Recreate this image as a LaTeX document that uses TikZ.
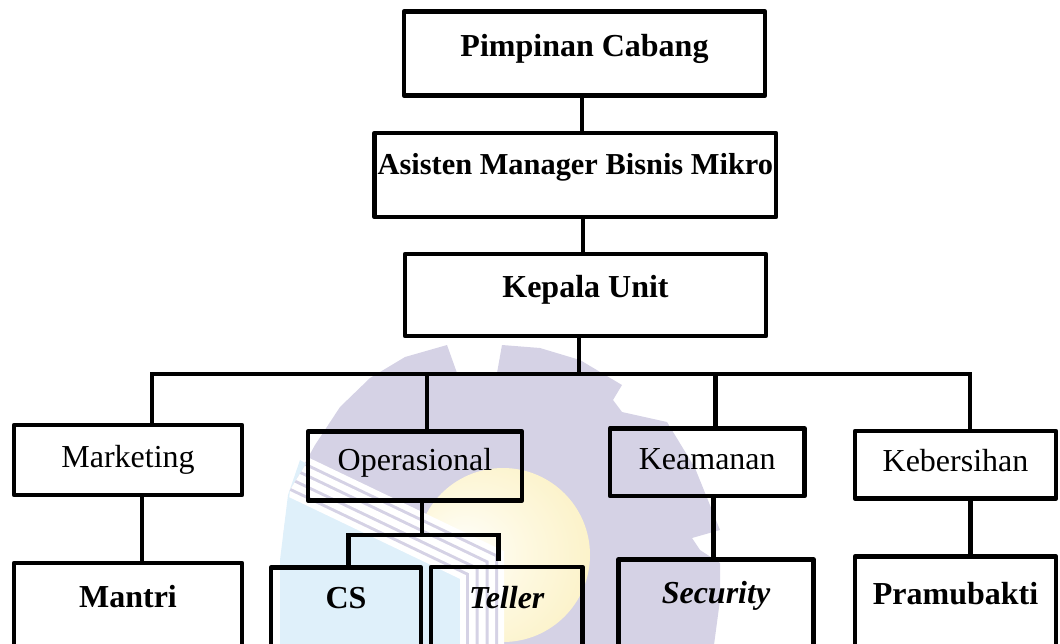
\documentclass[tikz,border=0pt]{standalone}
\usepackage{fontspec}
\setmainfont{Liberation Serif}
\definecolor{lav}{HTML}{D5D2E5}
\definecolor{wblue}{HTML}{DFF0FA}
\pgfdeclareradialshading{yelsh}{\pgfpoint{-14bp}{0bp}}{rgb(0bp)=(1,1,1); rgb(16bp)=(0.995,0.975,0.88); rgb(34bp)=(0.985,0.945,0.77); rgb(50bp)=(0.985,0.945,0.77)}
\begin{document}
\begin{tikzpicture}[x=1pt,y=-1pt,
  box/.style={draw=black, line width=4.6pt, line join=round, inner sep=0pt, outer sep=0pt, anchor=north west, align=center},
  bb/.style={box, font=\fontsize{32}{38}\selectfont\bfseries},
  rr/.style={box, font=\fontsize{32}{38}\selectfont},
  bi/.style={box, font=\fontsize{32}{38}\selectfont\bfseries\itshape},
  conn/.style={draw=black, line width=4.6pt},
  stripe/.style={line join=miter}]
\useasboundingbox (0,0) rectangle (1060,643);
\clip (0,0) rectangle (1060,643);
% ---- faint watermark ----
\fill[lav] (280,660) -- (280,580) -- (284,530) -- (290,490) -- (315,445) -- (340,407) -- (370,378) -- (405,357) -- (447,345) -- (457,373) -- (497,373) -- (502,345) -- (540,348) -- (580,360) -- (622,385) -- (613,400) -- (622,412) -- (667,422) -- (695,468) -- (720,530) -- (692,538) -- (700,550) -- (720,563) -- (720,600) -- (712,660) -- cycle;
\shade[shading=yelsh] (503,555) circle (87);
\fill[wblue] (300,460) -- (288,495) -- (280,560) -- (280,660) -- (482,660) -- (482,565) -- cycle;
\begin{scope}
\clip (345,400) -- (290,490) -- (280,580) -- (280,680) -- (620,680) -- (620,400) -- cycle;
\draw[stripe, white, line width=44pt] (250,454) -- (482,565) -- (482,690);
\draw[stripe, lav, line width=32pt] (250,454) -- (482,565) -- (482,690);
\draw[stripe, white, line width=26pt] (250,454) -- (482,565) -- (482,690);
\draw[stripe, lav, line width=13pt] (250,454) -- (482,565) -- (482,690);
\draw[stripe, white, line width=7pt] (250,454) -- (482,565) -- (482,690);
\end{scope}
% ---- boxes ----
\node[bb, minimum width=361pt, text height=44.3pt, text depth=39.5pt] (pc) at (404,11.7) {Pimpinan Cabang};
\node[box, font=\fontsize{30.4}{36}\selectfont\bfseries, minimum width=401.3pt, text height=41pt, text depth=43pt] (am) at (374.7,133) {Asisten Manager Bisnis Mikro};
\node[bb, minimum width=361pt, text height=43.7pt, text depth=38.3pt] (ku) at (405,254) {Kepala Unit};
\node[rr, minimum width=228pt, text height=42.3pt, text depth=27.7pt] (mk) at (14,425) {Marketing};
\node[rr, minimum width=214pt, text height=38.3pt, text depth=30.5pt] (op) at (308,431.7) {Operasional};
\node[rr, minimum width=194.5pt, text height=41pt, text depth=26.7pt] (ke) at (610,428.3) {Keamanan};
\node[rr, minimum width=201pt, text height=40.7pt, text depth=26.6pt] (kb) at (855,431) {Kebersihan};
\node[bb, minimum width=228pt, text height=44pt, text depth=53pt] (mt) at (14,563) {Mantri};
\node[bb, minimum width=150pt, text height=40.5pt, text depth=52pt] (cs) at (271,567.5) {CS};
\node[bi, minimum width=151.5pt, text height=41pt, text depth=52pt] (tl) at (431,567) {Teller};
\node[bi, minimum width=195pt, text height=43.5pt, text depth=57pt] (se) at (618.5,559.5) {Security};
\node[bb, minimum width=201pt, text height=47.3pt, text depth=56pt] (pb) at (855,556.7) {Pramubakti};
% ---- connectors ----
\coordinate (busL) at (152,374);
\coordinate (busR) at (970,374);
\coordinate (b2) at (427,374);
\coordinate (b3) at (715.5,374);
\coordinate (sbL) at (348.5,535);
\coordinate (sbR) at (498.5,535);
\coordinate (tlEnd) at (498.5,561);
\coordinate (c1) at ([xshift=-2.5pt]pc.south);
\coordinate (c2) at ([xshift=7.6pt]am.south);
\coordinate (c3) at ([xshift=-6.5pt]ku.south);
\coordinate (c4) at ([xshift=14pt]mk.south);
\coordinate (c5) at ([xshift=7pt]op.south);
\coordinate (c6) at ([xshift=6.25pt]ke.south);
\coordinate (c7) at ([xshift=15pt]kb.south);
\draw[conn] (c1) -- (c1 |- am.north);
\draw[conn] (c2) -- (c2 |- ku.north);
\draw[conn] (c3) -- (c3 |- busL);
\draw[conn] (busL |- mk.north) -- (busL) -- (busR) -- (busR |- kb.north);
\draw[conn] (b2) -- (b2 |- op.north);
\draw[conn] (b3) -- (b3 |- ke.north);
\draw[conn] (c4) -- (c4 |- mt.north);
\draw[conn] (c5) -- (c5 |- sbL);
\draw[conn] (sbL |- cs.north) -- (sbL) -- (sbR) -- (tlEnd);
\draw[conn] (c6) -- (c6 |- se.north);
\draw[conn] (c7) -- (c7 |- pb.north);
\end{tikzpicture}
\end{document}
